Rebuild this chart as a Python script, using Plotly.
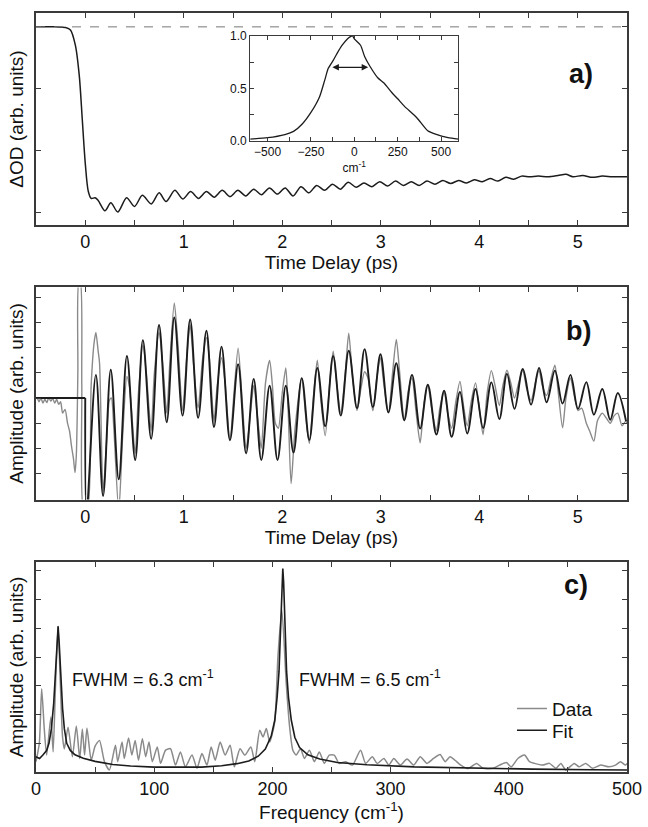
import plotly.graph_objects as go

# ---------------- DATA ----------------
# Panel a: transient absorption trace (time in ps, dOD arbitrary units; 0 = pre-pump level)
a_t = [-0.5, -0.3, -0.2, -0.15, -0.1, -0.06, -0.03, 0.0, 0.03, 0.06, 0.1, 0.13, 0.2, 0.26, 0.33,
       0.42, 0.5, 0.58, 0.67, 0.75, 0.82, 0.91, 0.99, 1.07, 1.15, 1.23, 1.31, 1.39, 1.47, 1.55,
       1.63, 1.71, 1.79, 1.87, 1.95, 2.03, 2.11, 2.19, 2.27, 2.35, 2.43, 2.51, 2.59, 2.67, 2.75,
       2.83, 2.91, 2.99, 3.07, 3.15, 3.23, 3.31, 3.39, 3.47, 3.55, 3.63, 3.71, 3.79, 3.87, 3.95,
       4.03, 4.11, 4.19, 4.27, 4.35, 4.43, 4.51, 4.6, 4.7, 4.8, 4.88, 4.95, 5.05, 5.15, 5.25, 5.35, 5.5]
a_v = [0.0, 0.0, -0.01, -0.05, -0.3, -0.8, -1.5, -2.2, -2.65, -2.77, -2.76, -2.8, -2.97, -2.84, -2.99,
       -2.76, -2.9, -2.72, -2.86, -2.68, -2.82, -2.64, -2.78, -2.66, -2.77, -2.66, -2.75, -2.64, -2.74, -2.64,
       -2.73, -2.62, -2.71, -2.6, -2.7, -2.6, -2.73, -2.58, -2.68, -2.56, -2.64, -2.54, -2.62, -2.51, -2.59,
       -2.52, -2.58, -2.5, -2.57, -2.49, -2.56, -2.5, -2.56, -2.49, -2.54, -2.48, -2.53, -2.48, -2.52, -2.47,
       -2.5, -2.45, -2.49, -2.43, -2.46, -2.41, -2.42, -2.41, -2.42, -2.4, -2.38, -2.42, -2.4, -2.43, -2.41, -2.42, -2.42]
a_baseline = 0.0

# Inset: pump spectrum (cm^-1, normalised)
ins_x = [-600, -500, -400, -350, -300, -250, -200, -170, -150, -120, -100, -70, -40, -25, -10, 0,
         36, 60, 90, 135, 171, 216, 250, 288, 360, 423, 468, 540, 600]
ins_y = [0.016, 0.03, 0.06, 0.09, 0.16, 0.27, 0.42, 0.58, 0.69, 0.77, 0.83, 0.91, 0.97, 0.99, 1.0, 0.97,
         0.91, 0.80, 0.71, 0.60, 0.55, 0.46, 0.40, 0.33, 0.22, 0.095, 0.063, 0.03, 0.016]
ins_fwhm_x = [-135, 80]
ins_fwhm_y = 0.70

# Panel b: oscillatory residual, fit (extrema) and data
b_fit_t = [-0.5, 0.0, 0.013, 0.108, 0.181, 0.259, 0.34, 0.423, 0.507, 0.585, 0.669, 0.749, 0.827, 0.904,
           0.988, 1.065, 1.146, 1.23, 1.307, 1.384, 1.469, 1.552, 1.633, 1.71, 1.787, 1.872, 1.952, 2.036,
           2.114, 2.198, 2.275, 2.356, 2.436, 2.517, 2.594, 2.675, 2.759, 2.836, 2.92, 2.997, 3.078, 3.158,
           3.239, 3.317, 3.4, 3.478, 3.565, 3.643, 3.72, 3.804, 3.878, 3.962, 4.039, 4.123, 4.204, 4.281,
           4.358, 4.442, 4.526, 4.607, 4.684, 4.768, 4.846, 4.926, 5.003, 5.087, 5.164, 5.249, 5.33, 5.406, 5.49]
b_fit_v = [0, 0, -4.6, 0.92, -3.89, 1.12, -3.23, 1.67, -2.46, 2.3, -1.62, 2.9, -0.96, 3.2,
           -0.70, 3.12, -0.79, 2.67, -1.15, 2.04, -1.67, 1.34, -2.2, 0.76, -2.46, 0.49, -2.46, 0.49,
           -2.17, 0.79, -1.67, 1.19, -1.12, 1.67, -0.70, 1.88, -0.40, 1.94, -0.36, 1.74, -0.57, 1.38,
           -0.88, 0.92, -1.21, 0.53, -1.45, 0.29, -1.54, 0.24, -1.41, 0.36, -1.19, 0.62, -0.83, 0.96,
           -0.43, 1.15, -0.26, 1.19, -0.17, 1.09, -0.22, 0.92, -0.43, 0.63, -0.66, 0.36, -0.86, 0.2, -0.92]

b_dat_t = [-0.514, -0.49, -0.47, -0.45, -0.43, -0.41, -0.39, -0.37, -0.35, -0.33, -0.31, -0.29, -0.27, -0.25,
           -0.23, -0.205, -0.18, -0.16, -0.14, -0.12, -0.104, -0.09, -0.075, -0.065, -0.05, -0.035, -0.015,
           0.02, 0.06, 0.09, 0.108, 0.13, 0.145, 0.181, 0.22, 0.245, 0.265, 0.29, 0.34, 0.38, 0.423, 0.45,
           0.507, 0.54, 0.585, 0.62, 0.669, 0.70, 0.749, 0.79, 0.827, 0.86, 0.904, 0.94, 0.988, 1.03, 1.065,
           1.10, 1.146, 1.19, 1.23, 1.26, 1.307, 1.34, 1.384, 1.42, 1.469, 1.51, 1.552, 1.59, 1.633, 1.67,
           1.71, 1.75, 1.787, 1.83, 1.872, 1.90, 1.93, 1.96, 2.0, 2.036, 2.06, 2.09, 2.13, 2.198, 2.24, 2.275,
           2.32, 2.356, 2.39, 2.436, 2.48, 2.517, 2.55, 2.594, 2.64, 2.675, 2.71, 2.759, 2.80, 2.836, 2.87,
           2.92, 2.96, 2.997, 3.03, 3.078, 3.12, 3.158, 3.19, 3.239, 3.28, 3.317, 3.36, 3.40, 3.44, 3.478,
           3.52, 3.565, 3.60, 3.643, 3.68, 3.72, 3.76, 3.804, 3.84, 3.878, 3.92, 3.962, 4.0, 4.039, 4.08,
           4.123, 4.16, 4.204, 4.24, 4.281, 4.32, 4.358, 4.40, 4.442, 4.48, 4.526, 4.57, 4.607, 4.64, 4.684,
           4.73, 4.768, 4.80, 4.846, 4.88, 4.926, 4.96, 5.003, 5.04, 5.087, 5.12, 5.164, 5.2, 5.249, 5.29,
           5.33, 5.37, 5.406, 5.45, 5.49, 5.5]
b_dat_v = [-0.1, 0.02, -0.15, 0.0, -0.2, -0.05, -0.18, 0.02, -0.12, -0.02, -0.2, -0.05, -0.25, -0.15,
           -0.6, -0.45, -1.0, -1.3, -1.9, -2.4, -2.96, -2.2, 1.0, 4.6, 4.6, 0.5, -4.5,
           -4.5, 0.5, 2.2, 2.6, 1.9, 1.4, -3.7, -1.5, -0.1, 0.0, -1.2, -4.5, -1.5, 0.86, 0.4,
           -2.2, 0.2, 2.1, 1.0, -1.3, 0.9, 2.6, 1.2, -0.6, 1.5, 3.78, 2.2, -0.5, 1.6, 2.9,
           1.3, -0.4, 1.5, 2.4, 1.6, -0.9, 0.5, 1.6, 0.6, -1.7, 0.2, 1.98, 0.1, -2.0, -0.9,
           0.5, -0.8, -2.0, 0.6, 1.49, 0.5, -1.0, -1.2, 0.2, 1.19, -0.5, -3.4, -1.2, 0.8, -0.8, -1.8,
           0.2, 1.5, 0.0, -1.5, 0.5, 1.86, 0.7, -0.6, 1.0, 2.57, 1.0, -0.5, 0.4, 1.05, 0.8,
           -0.5, 0.8, 1.6, 0.6, -0.6, 1.0, 2.33, 1.1, -0.9, 0.3, 0.8, -0.6, -1.78, -0.2, 0.5,
           -0.5, -1.3, -0.4, 0.25, -0.6, -1.2, -0.2, 0.66, -0.3, -1.1, -0.1, 0.6, -0.4, -1.45, 0.2,
           1.09, 0.5, -0.3, 0.5, 1.1, 0.6, 0.0, 0.6, 1.1, 0.4, -0.1, 0.6, 1.1, 0.5, 0.1,
           0.8, 1.3, 0.3, -1.18, 0.0, 0.8, 0.2, -0.5, -0.4, -1.0, -1.3, -1.71, -0.9, -0.6, -0.8,
           -1.0, -0.7, -0.6, -1.1, -0.9, -1.0]

# Panel c: Fourier spectrum (cm^-1) data and fit
c_dat_f = [0, 2.8, 4.8, 7, 9, 12.6, 14.5, 16.5, 18.7, 20.5, 22.5, 24, 27.1, 30.8, 34.1, 37, 39.2, 41.1, 43.1,
           46.7, 50, 53.7, 57.9, 62.1, 67.2, 69.1, 72.8, 74.7, 78.3, 81.1, 83.9, 86.7, 90, 92.8, 95.6, 98.4,
           102.6, 105.4, 109.6, 113.8, 118, 122.2, 126.4, 132, 136.2, 140.4, 144.6, 148.2, 151.6, 155.8, 160,
           164.2, 167.8, 172.6, 176.7, 181.8, 185.1, 189.3, 192.1, 194.9, 197.7, 201.9, 204.7, 208, 211.7,
           214.5, 217.3, 220.1, 223.8, 227.1, 231.3, 235.5, 239.7, 243.9, 248.1, 252.3, 256.5, 262, 267.7,
           274.6, 278.9, 284.5, 288.7, 294.3, 298.5, 302.7, 308.3, 313.9, 319.5, 325.1, 330.7, 336.3, 341.9,
           346.1, 350.3, 354.5, 358.7, 365.7, 372.7, 378.3, 386.7, 392.3, 397.9, 402.1, 407.7, 413.3, 417.5,
           421.7, 428.7, 434.3, 439.9, 444.1, 448.3, 455.3, 459.5, 465.1, 470.7, 477.7, 484.7, 490.3, 494.5,
           498.7, 500]
c_dat_v = [0.36, 1.0, 2.9, 1.5, 0.59, 1.91, 0.7, 3.0, 5.07, 3.2, 1.2, 0.8, 1.56, 0.53, 1.6, 0.47, 1.5, 0.59, 1.53,
           0.41, 0.9, 1.1, 0.36, 0.07, 0.93, 0.36, 1.04, 0.47, 1.18, 0.59, 1.1, 0.41, 1.16, 0.53, 1.04, 0.36,
           0.87, 0.3, 0.76, 0.81, 0.24, 0.7, 0.18, 0.59, 0.13, 0.64, 0.24, 0.87, 0.41, 1.04, 0.59,
           0.93, 0.18, 0.81, 0.59, 0.87, 0.36, 1.45, 1.22, 1.51, 1.04, 1.73, 4.03, 5.64, 3.1,
           1.6, 0.76, 0.59, 0.81, 0.47, 0.76, 0.36, 0.7, 0.3, 0.59, 0.59, 0.3, 0.36, 0.24,
           0.76, 0.3, 0.53, 0.3, 0.47, 0.24, 0.47, 0.24, 0.45, 0.24, 0.53, 0.3, 0.47, 0.61,
           0.36, 0.53, 0.41, 0.26, 0.12, 0.3, 0.13, 0.13, 0.24, 0.33, 0.18, 0.47, 0.59, 0.36,
           0.3, 0.24, 0.3, 0.13, 0.3, 0.07, 0.3, 0.18, 0.3, 0.13, 0.24, 0.18, 0.24, 0.36,
           0.24, 0.3]
c_fit_f = [0, 3, 6, 9, 11, 13, 15, 16.5, 17.8, 18.7, 19.6, 21, 22.5, 24, 26, 29, 33, 40, 50, 65, 80, 100, 120,
           140, 157, 170, 180, 188, 194, 199, 202, 204, 205.6, 207, 208.1, 208.8, 209.5, 210.6, 212, 213.6,
           216, 219, 223, 230, 240, 255, 280, 320, 370, 420, 470, 500]
c_fit_v = [0.53, 0.47, 0.6, 0.75, 1.0, 1.5, 2.4, 3.4, 4.5, 5.07, 4.5, 3.3, 2.2, 1.5, 1.0, 0.75, 0.6, 0.48, 0.37,
           0.26, 0.21, 0.17, 0.16, 0.17, 0.22, 0.29, 0.38, 0.55, 0.8, 1.25, 1.8, 2.6, 3.5, 5.0, 6.6, 7.08,
           6.6, 5.0, 3.5, 2.6, 1.8, 1.2, 0.85, 0.6, 0.45, 0.33, 0.25, 0.18, 0.13, 0.1, 0.08, 0.07]

# tick positions / labels
time_ticks = [0, 1, 2, 3, 4, 5]
time_minor = [-0.5, 0.5, 1.5, 2.5, 3.5, 4.5, 5.5]
freq_ticks = [0, 100, 200, 300, 400, 500]
freq_minor = [50, 150, 250, 350, 450]
ins_xticks = [-500, -250, 0, 250, 500]
ins_xminor = [-375, -125, 125, 375]
ins_yticks = [0, 0.5, 1.0]
ins_ylabels = ["0.0", "0.5", "1.0"]
ins_yminor = [0.25, 0.75]

# ---------------- FIGURE ----------------
FONT = "Liberation Sans, Arial, Helvetica, sans-serif"
GRAY = "#8a8a8a"
BLACK = "#1c1c1c"
FRAME = "#3a3a3a"

fig = go.Figure()

fig.add_trace(go.Scatter(x=a_t, y=a_v, mode="lines", line=dict(color=BLACK, width=1.5, shape="spline", smoothing=0.8),
                         xaxis="x", yaxis="y", showlegend=False))
fig.add_trace(go.Scatter(x=ins_x, y=ins_y, mode="lines", line=dict(color=BLACK, width=1.3, shape="spline", smoothing=0.6),
                         xaxis="x4", yaxis="y4", showlegend=False))
fig.add_trace(go.Scatter(x=b_dat_t, y=b_dat_v, mode="lines", line=dict(color=GRAY, width=1.4, shape="spline", smoothing=0.7),
                         xaxis="x2", yaxis="y2", showlegend=False))
fig.add_trace(go.Scatter(x=b_fit_t[:2], y=b_fit_v[:2], mode="lines", line=dict(color=BLACK, width=1.9),
                         xaxis="x2", yaxis="y2", showlegend=False))
fig.add_trace(go.Scatter(x=b_fit_t[1:], y=b_fit_v[1:], mode="lines", line=dict(color=BLACK, width=1.9, shape="spline", smoothing=1.0),
                         xaxis="x2", yaxis="y2", showlegend=False))
fig.add_trace(go.Scatter(x=c_dat_f, y=c_dat_v, mode="lines", name="Data", legend="legend",
                         line=dict(color=GRAY, width=1.5, shape="spline", smoothing=0.6),
                         xaxis="x3", yaxis="y3"))
fig.add_trace(go.Scatter(x=c_fit_f, y=c_fit_v, mode="lines", name="Fit", legend="legend2",
                         line=dict(color=BLACK, width=1.6),
                         xaxis="x3", yaxis="y3"))

fig.add_shape(type="line", xref="x domain", x0=0, x1=1, yref="y", y0=a_baseline, y1=a_baseline,
              line=dict(color="#777777", width=1, dash="dash"))

def frame_axis(minor_vals=None, mlen=5, **kw):
    d = dict(showline=True, linecolor=FRAME, linewidth=1.5, mirror="ticks", ticks="inside", ticklen=5,
             tickcolor=FRAME, tickwidth=1.2, showgrid=False, zeroline=False,
             tickfont=dict(family=FONT, size=18, color="#111"))
    if minor_vals is not None:
        d["minor"] = dict(tickmode="array", tickvals=minor_vals, ticks="inside", ticklen=mlen,
                          tickcolor=FRAME, tickwidth=1.2, showgrid=False)
    d.update(kw)
    return d

title_font = dict(family=FONT, size=19, color="#111")

H, W = 827, 648
ML, MR, MT, MB = 36, 16, 6, 55
ph = H - MT - MB
def ydom(top_px, bot_px):
    return [(H - MB - bot_px) / ph, (H - MB - top_px) / ph]
def xdom(l_px, r_px):
    pw = W - ML - MR
    return [(l_px - ML) / pw, (r_px - ML) / pw]

leg_common = dict(xanchor="left", yanchor="middle", bgcolor="rgba(0,0,0,0)",
                  font=dict(family=FONT, size=19, color="#111"), itemwidth=30)

fig.update_layout(
    width=W, height=H, margin=dict(l=ML, r=MR, t=MT, b=MB),
    paper_bgcolor="white", plot_bgcolor="white",
    font=dict(family=FONT, size=18, color="#111"),
    xaxis=frame_axis(minor_vals=time_minor, domain=[0, 1], anchor="y", range=[-0.5, 5.5], tickmode="array",
                     tickvals=time_ticks, title=dict(text="Time Delay (ps)", font=title_font, standoff=4)),
    yaxis=frame_axis(domain=ydom(6, 220), anchor="x", range=[-3.2, 0.224], tickmode="array",
                     tickvals=[-3, -2, -1, 0], showticklabels=False,
                     title=dict(text="ΔOD (arb. units)", font=title_font, standoff=6)),
    xaxis2=frame_axis(minor_vals=time_minor, domain=[0, 1], anchor="y2", range=[-0.5, 5.5], tickmode="array",
                      tickvals=time_ticks, title=dict(text="Time Delay (ps)", font=title_font, standoff=4)),
    yaxis2=frame_axis(domain=ydom(283, 497), anchor="x2", range=[-4.03, 4.39], tickmode="array",
                      tickvals=[-3, -2, -1, 0, 1, 2, 3, 4], showticklabels=False,
                      title=dict(text="Amplitude (arb. units)", font=title_font, standoff=6)),
    xaxis3=frame_axis(minor_vals=freq_minor, domain=[0, 1], anchor="y3", range=[0, 500], tickmode="array",
                      tickvals=freq_ticks,
                      title=dict(text="Frequency (cm<sup>-1</sup>)", font=title_font, standoff=4)),
    yaxis3=frame_axis(domain=ydom(560, 772), anchor="x3", range=[0, 7.31], tickmode="array",
                      tickvals=[1, 2, 3, 4, 5, 6, 7], showticklabels=False,
                      title=dict(text="Amplitude (arb. units)", font=title_font, standoff=6)),
    xaxis4=frame_axis(minor_vals=ins_xminor, mlen=4, domain=xdom(252, 462), anchor="y4", range=[-600, 600],
                      tickmode="array", tickvals=ins_xticks, ticklen=4, linewidth=1.2,
                      tickfont=dict(family=FONT, size=12, color="#111"),
                      title=dict(text="cm<sup>-1</sup>", font=dict(family=FONT, size=12, color="#111"), standoff=2)),
    yaxis4=frame_axis(minor_vals=ins_yminor, mlen=4, domain=ydom(29, 135), anchor="x4", range=[0, 1.0],
                      tickmode="array", tickvals=ins_yticks, ticktext=ins_ylabels, ticklen=4, linewidth=1.2,
                      tickfont=dict(family=FONT, size=12, color="#111")),
    legend=dict(x=(516 - ML) / (W - ML - MR), y=(H - MB - 708) / ph, **leg_common),
    legend2=dict(x=(516 - ML) / (W - ML - MR), y=(H - MB - 730) / ph, **leg_common),
)

fig.add_annotation(x=ins_fwhm_x[1], y=ins_fwhm_y, ax=ins_fwhm_x[0], ay=ins_fwhm_y, xref="x4", yref="y4",
                   axref="x4", ayref="y4", showarrow=True, arrowhead=2, arrowside="end+start",
                   arrowsize=1, arrowwidth=1.3, arrowcolor=BLACK, text="")

for txt, xp, yp in [("a)", 600, 50), ("b)", 598, 327), ("c)", 595, 600)]:
    fig.add_annotation(text="<b>%s</b>" % txt, x=(xp - ML) / (W - ML - MR), y=(H - MB - yp) / ph,
                       xref="paper", yref="paper", showarrow=False,
                       font=dict(family=FONT, size=27, color="#111"))

fig.add_annotation(text="FWHM = 6.3 cm<sup>-1</sup>", x=28.5, y=3.24, xref="x3", yref="y3", xanchor="left",
                   showarrow=False, font=dict(family=FONT, size=18, color="#111"))
fig.add_annotation(text="FWHM = 6.5 cm<sup>-1</sup>", x=220.9, y=3.24, xref="x3", yref="y3", xanchor="left",
                   showarrow=False, font=dict(family=FONT, size=18, color="#111"))

fig.write_html("out.html")
